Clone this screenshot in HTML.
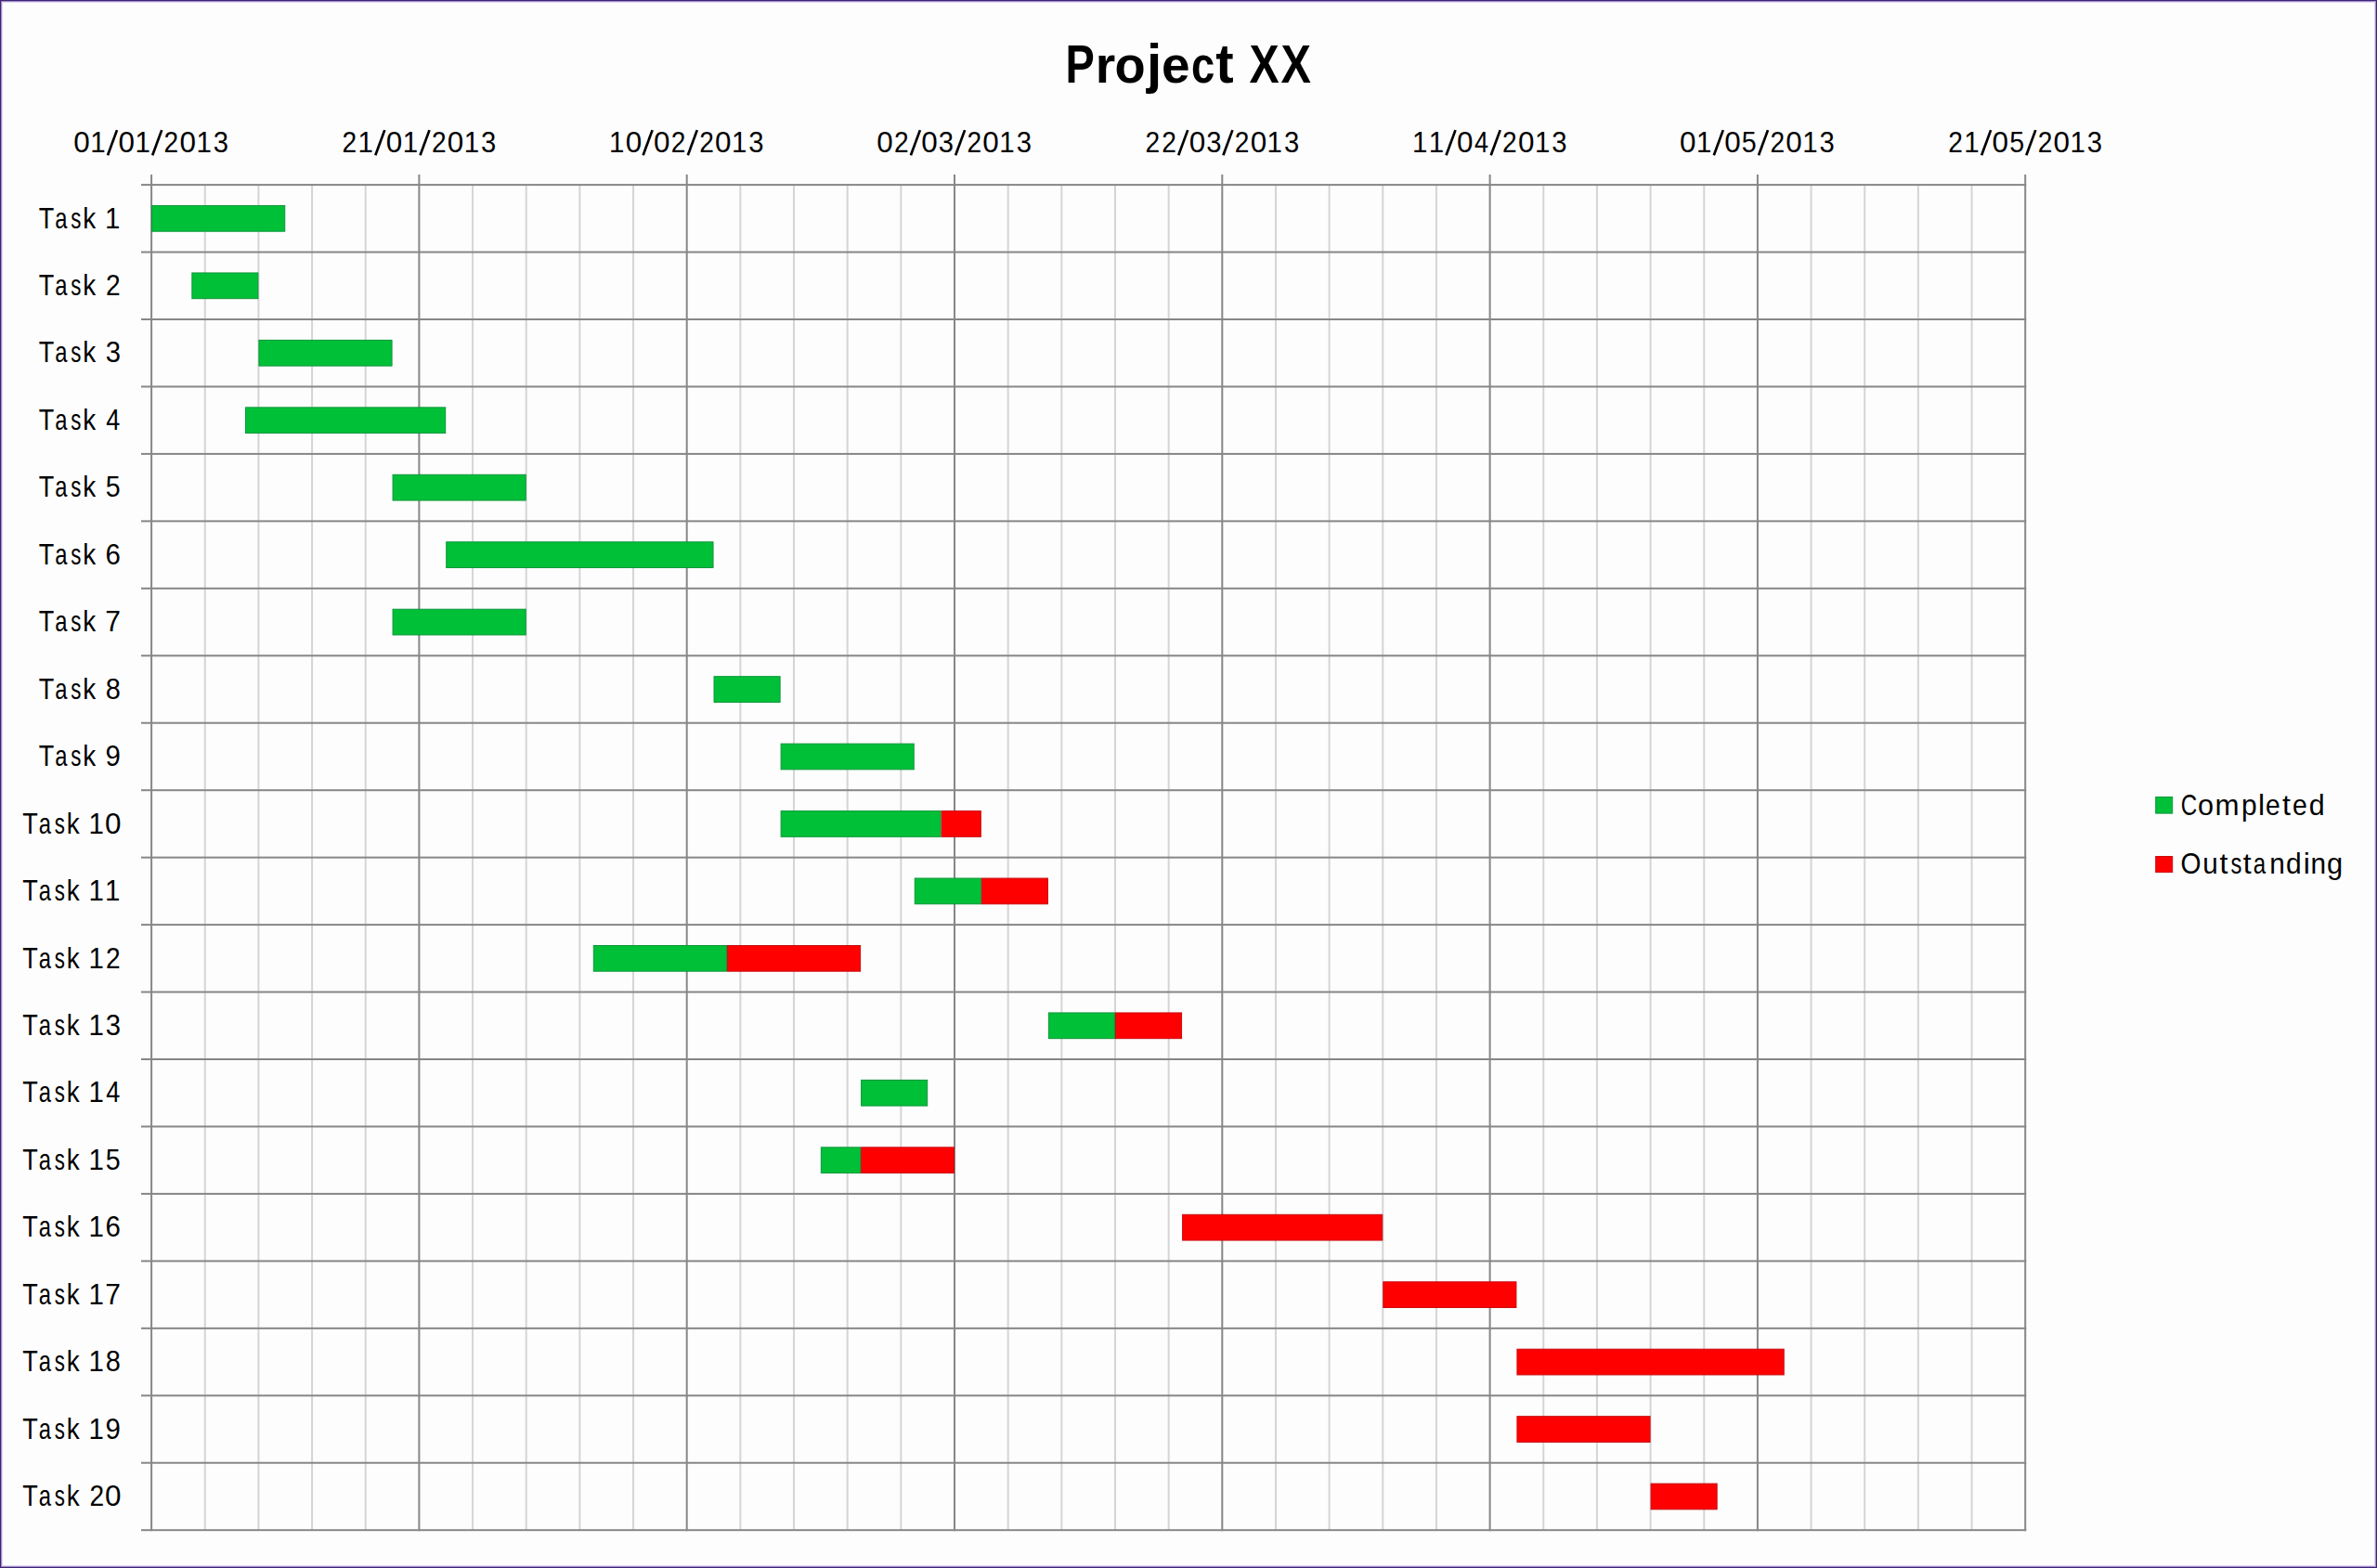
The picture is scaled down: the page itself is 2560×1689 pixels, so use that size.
<!DOCTYPE html>
<html><head><meta charset="utf-8"><style>
html,body{margin:0;padding:0;}
body{width:2560px;height:1689px;overflow:hidden;background:#fdfdfd;position:relative;}
.frame{position:absolute;left:0;top:0;width:2558px;height:1687px;border:1px solid #3c2577;box-shadow:inset 0 0 0 1px #a08ac8,inset 0 0 0 2px #e2d8ee;}
svg{position:absolute;left:0;top:0;}
text{font-family:"Liberation Sans",sans-serif;fill:#000;}
</style></head><body>
<svg width="2560" height="1689" viewBox="0 0 2560 1689">
<rect x="219.76" y="199.10" width="2" height="1449.10" fill="#d5d5d5"/>
<rect x="277.42" y="199.10" width="2" height="1449.10" fill="#d5d5d5"/>
<rect x="335.08" y="199.10" width="2" height="1449.10" fill="#d5d5d5"/>
<rect x="392.74" y="199.10" width="2" height="1449.10" fill="#d5d5d5"/>
<rect x="508.06" y="199.10" width="2" height="1449.10" fill="#d5d5d5"/>
<rect x="565.72" y="199.10" width="2" height="1449.10" fill="#d5d5d5"/>
<rect x="623.38" y="199.10" width="2" height="1449.10" fill="#d5d5d5"/>
<rect x="681.04" y="199.10" width="2" height="1449.10" fill="#d5d5d5"/>
<rect x="796.36" y="199.10" width="2" height="1449.10" fill="#d5d5d5"/>
<rect x="854.02" y="199.10" width="2" height="1449.10" fill="#d5d5d5"/>
<rect x="911.68" y="199.10" width="2" height="1449.10" fill="#d5d5d5"/>
<rect x="969.34" y="199.10" width="2" height="1449.10" fill="#d5d5d5"/>
<rect x="1084.66" y="199.10" width="2" height="1449.10" fill="#d5d5d5"/>
<rect x="1142.32" y="199.10" width="2" height="1449.10" fill="#d5d5d5"/>
<rect x="1199.98" y="199.10" width="2" height="1449.10" fill="#d5d5d5"/>
<rect x="1257.64" y="199.10" width="2" height="1449.10" fill="#d5d5d5"/>
<rect x="1372.96" y="199.10" width="2" height="1449.10" fill="#d5d5d5"/>
<rect x="1430.62" y="199.10" width="2" height="1449.10" fill="#d5d5d5"/>
<rect x="1488.28" y="199.10" width="2" height="1449.10" fill="#d5d5d5"/>
<rect x="1545.94" y="199.10" width="2" height="1449.10" fill="#d5d5d5"/>
<rect x="1661.26" y="199.10" width="2" height="1449.10" fill="#d5d5d5"/>
<rect x="1718.92" y="199.10" width="2" height="1449.10" fill="#d5d5d5"/>
<rect x="1776.58" y="199.10" width="2" height="1449.10" fill="#d5d5d5"/>
<rect x="1834.24" y="199.10" width="2" height="1449.10" fill="#d5d5d5"/>
<rect x="1949.56" y="199.10" width="2" height="1449.10" fill="#d5d5d5"/>
<rect x="2007.22" y="199.10" width="2" height="1449.10" fill="#d5d5d5"/>
<rect x="2064.88" y="199.10" width="2" height="1449.10" fill="#d5d5d5"/>
<rect x="2122.54" y="199.10" width="2" height="1449.10" fill="#d5d5d5"/>
<rect x="152" y="198.10" width="2030.20" height="2" fill="#878787"/>
<rect x="152" y="270.56" width="2030.20" height="2" fill="#878787"/>
<rect x="152" y="343.01" width="2030.20" height="2" fill="#878787"/>
<rect x="152" y="415.47" width="2030.20" height="2" fill="#878787"/>
<rect x="152" y="487.92" width="2030.20" height="2" fill="#878787"/>
<rect x="152" y="560.38" width="2030.20" height="2" fill="#878787"/>
<rect x="152" y="632.83" width="2030.20" height="2" fill="#878787"/>
<rect x="152" y="705.28" width="2030.20" height="2" fill="#878787"/>
<rect x="152" y="777.74" width="2030.20" height="2" fill="#878787"/>
<rect x="152" y="850.20" width="2030.20" height="2" fill="#878787"/>
<rect x="152" y="922.65" width="2030.20" height="2" fill="#878787"/>
<rect x="152" y="995.11" width="2030.20" height="2" fill="#878787"/>
<rect x="152" y="1067.56" width="2030.20" height="2" fill="#878787"/>
<rect x="152" y="1140.01" width="2030.20" height="2" fill="#878787"/>
<rect x="152" y="1212.47" width="2030.20" height="2" fill="#878787"/>
<rect x="152" y="1284.92" width="2030.20" height="2" fill="#878787"/>
<rect x="152" y="1357.38" width="2030.20" height="2" fill="#878787"/>
<rect x="152" y="1429.83" width="2030.20" height="2" fill="#878787"/>
<rect x="152" y="1502.29" width="2030.20" height="2" fill="#878787"/>
<rect x="152" y="1574.74" width="2030.20" height="2" fill="#878787"/>
<rect x="152" y="1647.20" width="2030.20" height="2" fill="#878787"/>
<rect x="162.10" y="188" width="2" height="1461.20" fill="#878787"/>
<rect x="450.40" y="188" width="2" height="1461.20" fill="#878787"/>
<rect x="738.70" y="188" width="2" height="1461.20" fill="#878787"/>
<rect x="1027.00" y="188" width="2" height="1461.20" fill="#878787"/>
<rect x="1315.30" y="188" width="2" height="1461.20" fill="#878787"/>
<rect x="1603.60" y="188" width="2" height="1461.20" fill="#878787"/>
<rect x="1891.90" y="188" width="2" height="1461.20" fill="#878787"/>
<rect x="2180.20" y="188" width="2" height="1461.20" fill="#878787"/>
<rect x="163.60" y="221.50" width="143.15" height="27.70" fill="#00c037" stroke="#0e963c" stroke-width="1.0"/>
<rect x="206.84" y="293.95" width="71.08" height="27.70" fill="#00c037" stroke="#0e963c" stroke-width="1.0"/>
<rect x="278.92" y="366.41" width="143.15" height="27.70" fill="#00c037" stroke="#0e963c" stroke-width="1.0"/>
<rect x="264.50" y="438.87" width="215.23" height="27.70" fill="#00c037" stroke="#0e963c" stroke-width="1.0"/>
<rect x="423.07" y="511.32" width="143.15" height="27.70" fill="#00c037" stroke="#0e963c" stroke-width="1.0"/>
<rect x="480.73" y="583.77" width="287.30" height="27.70" fill="#00c037" stroke="#0e963c" stroke-width="1.0"/>
<rect x="423.07" y="656.23" width="143.15" height="27.70" fill="#00c037" stroke="#0e963c" stroke-width="1.0"/>
<rect x="769.03" y="728.68" width="71.08" height="27.70" fill="#00c037" stroke="#0e963c" stroke-width="1.0"/>
<rect x="841.11" y="801.14" width="143.15" height="27.70" fill="#00c037" stroke="#0e963c" stroke-width="1.0"/>
<rect x="841.11" y="873.60" width="171.98" height="27.70" fill="#00c037" stroke="#0e963c" stroke-width="1.0"/>
<rect x="1014.09" y="873.60" width="42.25" height="27.70" fill="#ff0000" stroke="#c80c10" stroke-width="1.0"/>
<rect x="985.26" y="946.05" width="71.08" height="27.70" fill="#00c037" stroke="#0e963c" stroke-width="1.0"/>
<rect x="1057.33" y="946.05" width="71.08" height="27.70" fill="#ff0000" stroke="#c80c10" stroke-width="1.0"/>
<rect x="639.30" y="1018.50" width="143.15" height="27.70" fill="#00c037" stroke="#0e963c" stroke-width="1.0"/>
<rect x="783.45" y="1018.50" width="143.15" height="27.70" fill="#ff0000" stroke="#c80c10" stroke-width="1.0"/>
<rect x="1129.40" y="1090.96" width="71.08" height="27.70" fill="#00c037" stroke="#0e963c" stroke-width="1.0"/>
<rect x="1201.48" y="1090.96" width="71.08" height="27.70" fill="#ff0000" stroke="#c80c10" stroke-width="1.0"/>
<rect x="927.60" y="1163.41" width="71.08" height="27.70" fill="#00c037" stroke="#0e963c" stroke-width="1.0"/>
<rect x="884.35" y="1235.87" width="42.25" height="27.70" fill="#00c037" stroke="#0e963c" stroke-width="1.0"/>
<rect x="927.60" y="1235.87" width="99.91" height="27.70" fill="#ff0000" stroke="#c80c10" stroke-width="1.0"/>
<rect x="1273.56" y="1308.33" width="215.23" height="27.70" fill="#ff0000" stroke="#c80c10" stroke-width="1.0"/>
<rect x="1489.78" y="1380.78" width="143.15" height="27.70" fill="#ff0000" stroke="#c80c10" stroke-width="1.0"/>
<rect x="1633.93" y="1453.23" width="287.30" height="27.70" fill="#ff0000" stroke="#c80c10" stroke-width="1.0"/>
<rect x="1633.93" y="1525.69" width="143.15" height="27.70" fill="#ff0000" stroke="#c80c10" stroke-width="1.0"/>
<rect x="1778.08" y="1598.14" width="71.08" height="27.70" fill="#ff0000" stroke="#c80c10" stroke-width="1.0"/>
<rect x="2321.7" y="858.5" width="18" height="17.6" fill="#00c037" stroke="#0e963c" stroke-width="1.0"/>
<rect x="2321.7" y="922.5" width="18" height="17" fill="#ff0000" stroke="#c80c10" stroke-width="1.0"/>
<text transform="translate(1147.43,88.90) scale(0.805,1.000)" font-size="58.3" font-weight="bold">P</text>
<text transform="translate(1179.71,88.90) scale(0.946,0.960)" font-size="58.3" font-weight="bold">r</text>
<text transform="translate(1200.53,88.90) scale(0.931,0.960)" font-size="58.3" font-weight="bold">o</text>
<text transform="translate(1235.09,88.90) scale(1.000,1.000)" font-size="58.3" font-weight="bold">j</text>
<text transform="translate(1250.90,88.90) scale(0.942,0.960)" font-size="58.3" font-weight="bold">e</text>
<text transform="translate(1282.89,88.90) scale(0.778,0.960)" font-size="58.3" font-weight="bold">c</text>
<text transform="translate(1309.31,88.90) scale(1.000,1.000)" font-size="58.3" font-weight="bold">t</text>
<text transform="translate(1345.52,88.90) scale(0.827,1.000)" font-size="58.3" font-weight="bold">X</text>
<text transform="translate(1379.61,88.90) scale(0.834,1.000)" font-size="58.3" font-weight="bold">X</text>
<text transform="translate(79.24,163.60) scale(0.982,1.000)" font-size="32">0</text>
<text transform="translate(97.21,163.60) scale(0.921,1.000)" font-size="32">1</text>
<line x1="126.00" y1="140.15" x2="116.00" y2="167.20" stroke="#000" stroke-width="2.7"/>
<text transform="translate(127.44,163.60) scale(0.982,1.000)" font-size="32">0</text>
<text transform="translate(145.41,163.60) scale(0.921,1.000)" font-size="32">1</text>
<line x1="174.20" y1="140.15" x2="164.20" y2="167.20" stroke="#000" stroke-width="2.7"/>
<text transform="translate(176.59,163.60) scale(0.879,1.000)" font-size="32">2</text>
<text transform="translate(193.44,163.60) scale(0.982,1.000)" font-size="32">0</text>
<text transform="translate(211.41,163.60) scale(0.921,1.000)" font-size="32">1</text>
<text transform="translate(229.75,163.60) scale(0.914,1.000)" font-size="32">3</text>
<text transform="translate(368.49,163.60) scale(0.879,1.000)" font-size="32">2</text>
<text transform="translate(385.51,163.60) scale(0.921,1.000)" font-size="32">1</text>
<line x1="414.30" y1="140.15" x2="404.30" y2="167.20" stroke="#000" stroke-width="2.7"/>
<text transform="translate(415.74,163.60) scale(0.982,1.000)" font-size="32">0</text>
<text transform="translate(433.71,163.60) scale(0.921,1.000)" font-size="32">1</text>
<line x1="462.50" y1="140.15" x2="452.50" y2="167.20" stroke="#000" stroke-width="2.7"/>
<text transform="translate(464.89,163.60) scale(0.879,1.000)" font-size="32">2</text>
<text transform="translate(481.74,163.60) scale(0.982,1.000)" font-size="32">0</text>
<text transform="translate(499.71,163.60) scale(0.921,1.000)" font-size="32">1</text>
<text transform="translate(518.05,163.60) scale(0.914,1.000)" font-size="32">3</text>
<text transform="translate(656.01,163.60) scale(0.921,1.000)" font-size="32">1</text>
<text transform="translate(673.64,163.60) scale(0.982,1.000)" font-size="32">0</text>
<line x1="702.60" y1="140.15" x2="692.60" y2="167.20" stroke="#000" stroke-width="2.7"/>
<text transform="translate(704.04,163.60) scale(0.982,1.000)" font-size="32">0</text>
<text transform="translate(722.79,163.60) scale(0.879,1.000)" font-size="32">2</text>
<line x1="750.80" y1="140.15" x2="740.80" y2="167.20" stroke="#000" stroke-width="2.7"/>
<text transform="translate(753.19,163.60) scale(0.879,1.000)" font-size="32">2</text>
<text transform="translate(770.04,163.60) scale(0.982,1.000)" font-size="32">0</text>
<text transform="translate(788.01,163.60) scale(0.921,1.000)" font-size="32">1</text>
<text transform="translate(806.35,163.60) scale(0.914,1.000)" font-size="32">3</text>
<text transform="translate(944.14,163.60) scale(0.982,1.000)" font-size="32">0</text>
<text transform="translate(962.89,163.60) scale(0.879,1.000)" font-size="32">2</text>
<line x1="990.90" y1="140.15" x2="980.90" y2="167.20" stroke="#000" stroke-width="2.7"/>
<text transform="translate(992.34,163.60) scale(0.982,1.000)" font-size="32">0</text>
<text transform="translate(1010.85,163.60) scale(0.914,1.000)" font-size="32">3</text>
<line x1="1039.10" y1="140.15" x2="1029.10" y2="167.20" stroke="#000" stroke-width="2.7"/>
<text transform="translate(1041.49,163.60) scale(0.879,1.000)" font-size="32">2</text>
<text transform="translate(1058.34,163.60) scale(0.982,1.000)" font-size="32">0</text>
<text transform="translate(1076.31,163.60) scale(0.921,1.000)" font-size="32">1</text>
<text transform="translate(1094.65,163.60) scale(0.914,1.000)" font-size="32">3</text>
<text transform="translate(1233.39,163.60) scale(0.879,1.000)" font-size="32">2</text>
<text transform="translate(1251.19,163.60) scale(0.879,1.000)" font-size="32">2</text>
<line x1="1279.20" y1="140.15" x2="1269.20" y2="167.20" stroke="#000" stroke-width="2.7"/>
<text transform="translate(1280.64,163.60) scale(0.982,1.000)" font-size="32">0</text>
<text transform="translate(1299.15,163.60) scale(0.914,1.000)" font-size="32">3</text>
<line x1="1327.40" y1="140.15" x2="1317.40" y2="167.20" stroke="#000" stroke-width="2.7"/>
<text transform="translate(1329.79,163.60) scale(0.879,1.000)" font-size="32">2</text>
<text transform="translate(1346.64,163.60) scale(0.982,1.000)" font-size="32">0</text>
<text transform="translate(1364.61,163.60) scale(0.921,1.000)" font-size="32">1</text>
<text transform="translate(1382.95,163.60) scale(0.914,1.000)" font-size="32">3</text>
<text transform="translate(1520.91,163.60) scale(0.921,1.000)" font-size="32">1</text>
<text transform="translate(1538.71,163.60) scale(0.921,1.000)" font-size="32">1</text>
<line x1="1567.50" y1="140.15" x2="1557.50" y2="167.20" stroke="#000" stroke-width="2.7"/>
<text transform="translate(1568.94,163.60) scale(0.982,1.000)" font-size="32">0</text>
<text transform="translate(1588.09,163.60) scale(0.842,1.000)" font-size="32">4</text>
<line x1="1615.70" y1="140.15" x2="1605.70" y2="167.20" stroke="#000" stroke-width="2.7"/>
<text transform="translate(1618.09,163.60) scale(0.879,1.000)" font-size="32">2</text>
<text transform="translate(1634.94,163.60) scale(0.982,1.000)" font-size="32">0</text>
<text transform="translate(1652.91,163.60) scale(0.921,1.000)" font-size="32">1</text>
<text transform="translate(1671.25,163.60) scale(0.914,1.000)" font-size="32">3</text>
<text transform="translate(1809.04,163.60) scale(0.982,1.000)" font-size="32">0</text>
<text transform="translate(1827.01,163.60) scale(0.921,1.000)" font-size="32">1</text>
<line x1="1855.80" y1="140.15" x2="1845.80" y2="167.20" stroke="#000" stroke-width="2.7"/>
<text transform="translate(1857.24,163.60) scale(0.982,1.000)" font-size="32">0</text>
<text transform="translate(1875.85,163.60) scale(0.895,1.000)" font-size="32">5</text>
<line x1="1904.00" y1="140.15" x2="1894.00" y2="167.20" stroke="#000" stroke-width="2.7"/>
<text transform="translate(1906.39,163.60) scale(0.879,1.000)" font-size="32">2</text>
<text transform="translate(1923.24,163.60) scale(0.982,1.000)" font-size="32">0</text>
<text transform="translate(1941.21,163.60) scale(0.921,1.000)" font-size="32">1</text>
<text transform="translate(1959.55,163.60) scale(0.914,1.000)" font-size="32">3</text>
<text transform="translate(2098.29,163.60) scale(0.879,1.000)" font-size="32">2</text>
<text transform="translate(2115.31,163.60) scale(0.921,1.000)" font-size="32">1</text>
<line x1="2144.10" y1="140.15" x2="2134.10" y2="167.20" stroke="#000" stroke-width="2.7"/>
<text transform="translate(2145.54,163.60) scale(0.982,1.000)" font-size="32">0</text>
<text transform="translate(2164.15,163.60) scale(0.895,1.000)" font-size="32">5</text>
<line x1="2192.30" y1="140.15" x2="2182.30" y2="167.20" stroke="#000" stroke-width="2.7"/>
<text transform="translate(2194.69,163.60) scale(0.879,1.000)" font-size="32">2</text>
<text transform="translate(2211.54,163.60) scale(0.982,1.000)" font-size="32">0</text>
<text transform="translate(2229.51,163.60) scale(0.921,1.000)" font-size="32">1</text>
<text transform="translate(2247.85,163.60) scale(0.914,1.000)" font-size="32">3</text>
<text transform="translate(41.84,245.53) scale(0.846,1.000)" font-size="32">T</text>
<text transform="translate(59.19,245.53) scale(0.744,0.960)" font-size="32">a</text>
<text transform="translate(76.31,245.53) scale(0.696,0.960)" font-size="32">s</text>
<text transform="translate(89.34,245.53) scale(0.871,1.000)" font-size="32">k</text>
<text transform="translate(113.11,245.53) scale(0.921,1.000)" font-size="32">1</text>
<text transform="translate(41.84,317.98) scale(0.846,1.000)" font-size="32">T</text>
<text transform="translate(59.19,317.98) scale(0.744,0.960)" font-size="32">a</text>
<text transform="translate(76.31,317.98) scale(0.696,0.960)" font-size="32">s</text>
<text transform="translate(89.34,317.98) scale(0.871,1.000)" font-size="32">k</text>
<text transform="translate(113.89,317.98) scale(0.879,1.000)" font-size="32">2</text>
<text transform="translate(41.84,390.44) scale(0.846,1.000)" font-size="32">T</text>
<text transform="translate(59.19,390.44) scale(0.744,0.960)" font-size="32">a</text>
<text transform="translate(76.31,390.44) scale(0.696,0.960)" font-size="32">s</text>
<text transform="translate(89.34,390.44) scale(0.871,1.000)" font-size="32">k</text>
<text transform="translate(113.65,390.44) scale(0.914,1.000)" font-size="32">3</text>
<text transform="translate(41.84,462.89) scale(0.846,1.000)" font-size="32">T</text>
<text transform="translate(59.19,462.89) scale(0.744,0.960)" font-size="32">a</text>
<text transform="translate(76.31,462.89) scale(0.696,0.960)" font-size="32">s</text>
<text transform="translate(89.34,462.89) scale(0.871,1.000)" font-size="32">k</text>
<text transform="translate(114.29,462.89) scale(0.842,1.000)" font-size="32">4</text>
<text transform="translate(41.84,535.35) scale(0.846,1.000)" font-size="32">T</text>
<text transform="translate(59.19,535.35) scale(0.744,0.960)" font-size="32">a</text>
<text transform="translate(76.31,535.35) scale(0.696,0.960)" font-size="32">s</text>
<text transform="translate(89.34,535.35) scale(0.871,1.000)" font-size="32">k</text>
<text transform="translate(113.75,535.35) scale(0.895,1.000)" font-size="32">5</text>
<text transform="translate(41.84,607.80) scale(0.846,1.000)" font-size="32">T</text>
<text transform="translate(59.19,607.80) scale(0.744,0.960)" font-size="32">a</text>
<text transform="translate(76.31,607.80) scale(0.696,0.960)" font-size="32">s</text>
<text transform="translate(89.34,607.80) scale(0.871,1.000)" font-size="32">k</text>
<text transform="translate(113.43,607.80) scale(0.919,1.000)" font-size="32">6</text>
<text transform="translate(41.84,680.26) scale(0.846,1.000)" font-size="32">T</text>
<text transform="translate(59.19,680.26) scale(0.744,0.960)" font-size="32">a</text>
<text transform="translate(76.31,680.26) scale(0.696,0.960)" font-size="32">s</text>
<text transform="translate(89.34,680.26) scale(0.871,1.000)" font-size="32">k</text>
<text transform="translate(113.32,680.26) scale(0.939,1.000)" font-size="32">7</text>
<text transform="translate(41.84,752.71) scale(0.846,1.000)" font-size="32">T</text>
<text transform="translate(59.19,752.71) scale(0.744,0.960)" font-size="32">a</text>
<text transform="translate(76.31,752.71) scale(0.696,0.960)" font-size="32">s</text>
<text transform="translate(89.34,752.71) scale(0.871,1.000)" font-size="32">k</text>
<text transform="translate(113.67,752.71) scale(0.904,1.000)" font-size="32">8</text>
<text transform="translate(41.84,825.17) scale(0.846,1.000)" font-size="32">T</text>
<text transform="translate(59.19,825.17) scale(0.744,0.960)" font-size="32">a</text>
<text transform="translate(76.31,825.17) scale(0.696,0.960)" font-size="32">s</text>
<text transform="translate(89.34,825.17) scale(0.871,1.000)" font-size="32">k</text>
<text transform="translate(113.50,825.17) scale(0.919,1.000)" font-size="32">9</text>
<text transform="translate(24.34,897.62) scale(0.846,1.000)" font-size="32">T</text>
<text transform="translate(41.69,897.62) scale(0.744,0.960)" font-size="32">a</text>
<text transform="translate(58.81,897.62) scale(0.696,0.960)" font-size="32">s</text>
<text transform="translate(71.84,897.62) scale(0.871,1.000)" font-size="32">k</text>
<text transform="translate(95.61,897.62) scale(0.921,1.000)" font-size="32">1</text>
<text transform="translate(112.94,897.62) scale(0.982,1.000)" font-size="32">0</text>
<text transform="translate(24.34,970.08) scale(0.846,1.000)" font-size="32">T</text>
<text transform="translate(41.69,970.08) scale(0.744,0.960)" font-size="32">a</text>
<text transform="translate(58.81,970.08) scale(0.696,0.960)" font-size="32">s</text>
<text transform="translate(71.84,970.08) scale(0.871,1.000)" font-size="32">k</text>
<text transform="translate(95.61,970.08) scale(0.921,1.000)" font-size="32">1</text>
<text transform="translate(113.11,970.08) scale(0.921,1.000)" font-size="32">1</text>
<text transform="translate(24.34,1042.53) scale(0.846,1.000)" font-size="32">T</text>
<text transform="translate(41.69,1042.53) scale(0.744,0.960)" font-size="32">a</text>
<text transform="translate(58.81,1042.53) scale(0.696,0.960)" font-size="32">s</text>
<text transform="translate(71.84,1042.53) scale(0.871,1.000)" font-size="32">k</text>
<text transform="translate(95.61,1042.53) scale(0.921,1.000)" font-size="32">1</text>
<text transform="translate(113.89,1042.53) scale(0.879,1.000)" font-size="32">2</text>
<text transform="translate(24.34,1114.99) scale(0.846,1.000)" font-size="32">T</text>
<text transform="translate(41.69,1114.99) scale(0.744,0.960)" font-size="32">a</text>
<text transform="translate(58.81,1114.99) scale(0.696,0.960)" font-size="32">s</text>
<text transform="translate(71.84,1114.99) scale(0.871,1.000)" font-size="32">k</text>
<text transform="translate(95.61,1114.99) scale(0.921,1.000)" font-size="32">1</text>
<text transform="translate(113.65,1114.99) scale(0.914,1.000)" font-size="32">3</text>
<text transform="translate(24.34,1187.44) scale(0.846,1.000)" font-size="32">T</text>
<text transform="translate(41.69,1187.44) scale(0.744,0.960)" font-size="32">a</text>
<text transform="translate(58.81,1187.44) scale(0.696,0.960)" font-size="32">s</text>
<text transform="translate(71.84,1187.44) scale(0.871,1.000)" font-size="32">k</text>
<text transform="translate(95.61,1187.44) scale(0.921,1.000)" font-size="32">1</text>
<text transform="translate(114.29,1187.44) scale(0.842,1.000)" font-size="32">4</text>
<text transform="translate(24.34,1259.90) scale(0.846,1.000)" font-size="32">T</text>
<text transform="translate(41.69,1259.90) scale(0.744,0.960)" font-size="32">a</text>
<text transform="translate(58.81,1259.90) scale(0.696,0.960)" font-size="32">s</text>
<text transform="translate(71.84,1259.90) scale(0.871,1.000)" font-size="32">k</text>
<text transform="translate(95.61,1259.90) scale(0.921,1.000)" font-size="32">1</text>
<text transform="translate(113.75,1259.90) scale(0.895,1.000)" font-size="32">5</text>
<text transform="translate(24.34,1332.35) scale(0.846,1.000)" font-size="32">T</text>
<text transform="translate(41.69,1332.35) scale(0.744,0.960)" font-size="32">a</text>
<text transform="translate(58.81,1332.35) scale(0.696,0.960)" font-size="32">s</text>
<text transform="translate(71.84,1332.35) scale(0.871,1.000)" font-size="32">k</text>
<text transform="translate(95.61,1332.35) scale(0.921,1.000)" font-size="32">1</text>
<text transform="translate(113.43,1332.35) scale(0.919,1.000)" font-size="32">6</text>
<text transform="translate(24.34,1404.81) scale(0.846,1.000)" font-size="32">T</text>
<text transform="translate(41.69,1404.81) scale(0.744,0.960)" font-size="32">a</text>
<text transform="translate(58.81,1404.81) scale(0.696,0.960)" font-size="32">s</text>
<text transform="translate(71.84,1404.81) scale(0.871,1.000)" font-size="32">k</text>
<text transform="translate(95.61,1404.81) scale(0.921,1.000)" font-size="32">1</text>
<text transform="translate(113.32,1404.81) scale(0.939,1.000)" font-size="32">7</text>
<text transform="translate(24.34,1477.26) scale(0.846,1.000)" font-size="32">T</text>
<text transform="translate(41.69,1477.26) scale(0.744,0.960)" font-size="32">a</text>
<text transform="translate(58.81,1477.26) scale(0.696,0.960)" font-size="32">s</text>
<text transform="translate(71.84,1477.26) scale(0.871,1.000)" font-size="32">k</text>
<text transform="translate(95.61,1477.26) scale(0.921,1.000)" font-size="32">1</text>
<text transform="translate(113.67,1477.26) scale(0.904,1.000)" font-size="32">8</text>
<text transform="translate(24.34,1549.72) scale(0.846,1.000)" font-size="32">T</text>
<text transform="translate(41.69,1549.72) scale(0.744,0.960)" font-size="32">a</text>
<text transform="translate(58.81,1549.72) scale(0.696,0.960)" font-size="32">s</text>
<text transform="translate(71.84,1549.72) scale(0.871,1.000)" font-size="32">k</text>
<text transform="translate(95.61,1549.72) scale(0.921,1.000)" font-size="32">1</text>
<text transform="translate(113.50,1549.72) scale(0.919,1.000)" font-size="32">9</text>
<text transform="translate(24.34,1622.17) scale(0.846,1.000)" font-size="32">T</text>
<text transform="translate(41.69,1622.17) scale(0.744,0.960)" font-size="32">a</text>
<text transform="translate(58.81,1622.17) scale(0.696,0.960)" font-size="32">s</text>
<text transform="translate(71.84,1622.17) scale(0.871,1.000)" font-size="32">k</text>
<text transform="translate(96.39,1622.17) scale(0.879,1.000)" font-size="32">2</text>
<text transform="translate(112.94,1622.17) scale(0.982,1.000)" font-size="32">0</text>
<text transform="translate(2348.69,877.50) scale(0.756,1.000)" font-size="32">C</text>
<text transform="translate(2366.90,877.50) scale(0.959,0.960)" font-size="32">o</text>
<text transform="translate(2385.49,877.50) scale(0.978,0.960)" font-size="32">m</text>
<text transform="translate(2413.95,877.50) scale(0.938,0.960)" font-size="32">p</text>
<text transform="translate(2431.99,877.50) scale(1.000,1.000)" font-size="32">l</text>
<text transform="translate(2439.90,877.50) scale(0.884,0.960)" font-size="32">e</text>
<text transform="translate(2457.94,877.50) scale(1.000,0.960)" font-size="32">t</text>
<text transform="translate(2468.99,877.50) scale(0.891,0.960)" font-size="32">e</text>
<text transform="translate(2486.71,877.50) scale(0.951,1.000)" font-size="32">d</text>
<text transform="translate(2348.56,941.00) scale(0.884,1.000)" font-size="32">O</text>
<text transform="translate(2372.27,941.00) scale(0.926,0.960)" font-size="32">u</text>
<text transform="translate(2390.59,941.00) scale(1.000,0.960)" font-size="32">t</text>
<text transform="translate(2402.45,941.00) scale(0.743,0.960)" font-size="32">s</text>
<text transform="translate(2415.79,941.00) scale(1.000,0.960)" font-size="32">t</text>
<text transform="translate(2426.87,941.00) scale(0.756,0.960)" font-size="32">a</text>
<text transform="translate(2444.19,941.00) scale(0.932,0.960)" font-size="32">n</text>
<text transform="translate(2462.12,941.00) scale(0.938,1.000)" font-size="32">d</text>
<text transform="translate(2480.74,941.00) scale(1.000,1.000)" font-size="32">i</text>
<text transform="translate(2488.59,941.00) scale(0.932,0.960)" font-size="32">n</text>
<text transform="translate(2505.89,941.00) scale(0.965,0.960)" font-size="32">g</text>
</svg>
<div class="frame"></div>
</body></html>
